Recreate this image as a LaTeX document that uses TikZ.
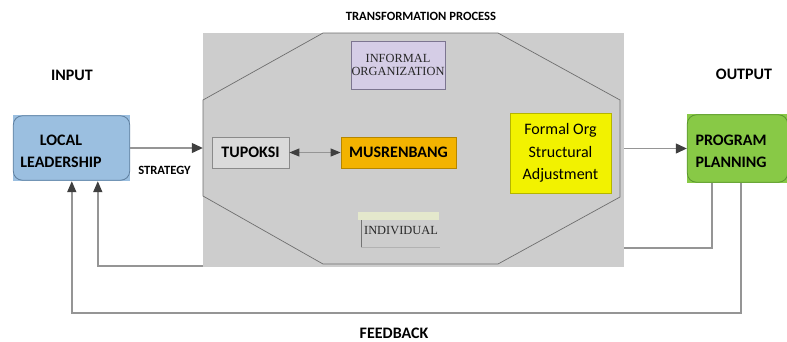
\documentclass[tikz,border=0pt]{standalone}
\usepackage{fontspec}
\setmainfont{Carlito}
\newfontfamily\serifx{Liberation Serif}
\usetikzlibrary{arrows.meta}
\definecolor{bggray}{HTML}{CDCDCD}
\definecolor{octline}{HTML}{6E6E6E}
\definecolor{leadfill}{HTML}{9BBFE0}
\definecolor{leadline}{HTML}{5F7F9F}
\definecolor{tupfill}{HTML}{DADADA}
\definecolor{tupline}{HTML}{8A8A8A}
\definecolor{musfill}{HTML}{F3B300}
\definecolor{musline}{HTML}{B58600}
\definecolor{infill}{HTML}{D5CDE6}
\definecolor{inline}{HTML}{7C7590}
\definecolor{yelfill}{HTML}{F2F200}
\definecolor{yelline}{HTML}{B5B500}
\definecolor{ppfill}{HTML}{88C946}
\definecolor{ppline}{HTML}{5A9530}
\definecolor{fbline}{HTML}{959595}
\definecolor{tipc}{HTML}{3F3F3F}
\definecolor{beige}{HTML}{E4E8CC}
\tikzset{
  bigfont/.style={font=\fontsize{16}{22}\selectfont\bfseries},
  smallfont/.style={font=\fontsize{12.6}{15}\selectfont\bfseries},
  serfont/.style={font=\serifx\fontsize{12.4}{17}\selectfont, text=black!85},
  box/.style={draw, line width=0.8pt, inner sep=0pt},
  fb/.style={draw=fbline, line width=1.6pt, -{Triangle[length=11pt,width=9pt,color=tipc]}},
  flow/.style={draw=fbline, line width=1.2pt, -{Triangle[length=11pt,width=10pt,color=tipc]}},
  dflow/.style={draw=fbline, line width=1pt, {Triangle[length=10pt,width=8pt,color=tipc]}-{Triangle[length=10pt,width=8pt,color=tipc]}},
}
\begin{document}
\begin{tikzpicture}[x=1pt,y=-1pt]
\useasboundingbox (0,0) rectangle (787,341);

% boxes (outer)
\node[fill=leadfill, minimum width=117pt, minimum height=66pt, inner sep=0pt] (lead) at (71.5,148) {};
\node[fill=ppfill, minimum width=101pt, minimum height=69pt, inner sep=0pt] (pp) at (737.5,148.5) {};

% feedback loops (behind process area)
\coordinate (fbo) at (400,313);
\coordinate (fbi) at (400,248);
\coordinate (fbj) at (400,266);
\draw[fb] ([xshift=54pt]pp.south west) |- (fbo) -| ([xshift=59pt]lead.south west);
\draw[fb] ([xshift=25pt]pp.south west) |- (fbi) -- (fbj) -| ([xshift=85pt]lead.south west);

% process area
\node[fill=bggray, minimum width=421pt, minimum height=234pt, inner sep=0pt] (proc) at (413.5,150) {};
\coordinate (o1) at (323,33);
\coordinate (o2) at (498,33);
\coordinate (o3) at (620,100);
\coordinate (o4) at (620,197);
\coordinate (o5) at (498,264);
\coordinate (o6) at (323,264);
\coordinate (o7) at (203,196);
\coordinate (o8) at (203,100);
\draw[octline, line width=0.7pt] (o1) -- (o2) -- (o3) -- (o4) -- (o5) -- (o6) -- (o7) -- (o8) -- cycle;

% inner rounded borders of end boxes
\draw[leadline, line width=0.8pt, rounded corners=9pt] ([xshift=0.5pt,yshift=-1pt]lead.north west) rectangle ([xshift=-0.5pt,yshift=1pt]lead.south east);
\draw[ppline, line width=0.8pt, rounded corners=9pt] ([xshift=0.5pt,yshift=-1pt]pp.north west) rectangle ([xshift=-0.5pt,yshift=1pt]pp.south east);
\node[bigfont, align=center] (leadtxt) at (61,151) {LOCAL\\LEADERSHIP};
\node[bigfont, align=left, anchor=west] (pptxt) at (692,151) {PROGRAM\\PLANNING};

% inner boxes
\node[box, draw=tupline, fill=tupfill, minimum width=77pt, minimum height=31pt, bigfont] (tup) at (250.5,152.5) {TUPOKSI};
\node[box, draw=musline, fill=musfill, minimum width=115pt, minimum height=31pt, bigfont] (mus) at (398.5,152.5) {MUSRENBANG};
\node[box, draw=inline, fill=infill, minimum width=94pt, minimum height=48pt, serfont, align=center] (inf) at (398,65) {INFORMAL\\[-4pt]ORGANIZATION};
\node[box, draw=yelline, fill=yelfill, minimum width=101pt, minimum height=80pt, align=center, font=\fontsize{16}{22.5}\selectfont] (formal) at (560.5,153) {Formal Org\\Structural\\Adjustment};

% individual
\node[fill=beige, minimum width=81pt, minimum height=8pt, inner sep=0pt] (strip) at (398.5,216) {};
\node[serfont] (indiv) at (401,230) {INDIVIDUAL};
\draw[black!55, line width=0.8pt] (361,220) -- (361,247);
\draw[black!30, line width=0.6pt] (361,247) -- (440,247);

% connectors
\draw[flow] (lead.east) -- (proc.west |- lead.east);
\draw[flow] (proc.east |- pp.west) -- (pp.west);
\draw[dflow] (tup.east) -- (mus.west);

% labels
\node[bigfont] (input) at (72,75) {INPUT};
\node[bigfont] (output) at (744,74) {OUTPUT};
\node[smallfont] (trans) at (421,16) {TRANSFORMATION PROCESS};
\node[smallfont] (strat) at (164.5,170) {STRATEGY};
\node[bigfont] (feed) at (394,333) {FEEDBACK};
\end{tikzpicture}
\end{document}
